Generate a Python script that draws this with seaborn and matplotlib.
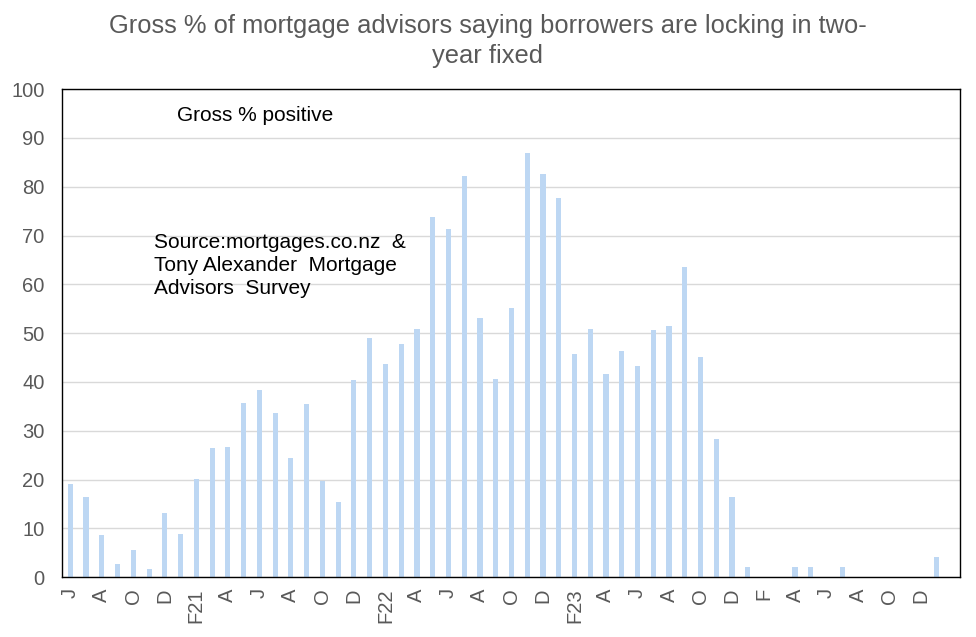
import numpy as np
import pandas as pd
import seaborn as sns
import matplotlib.pyplot as plt

# Monthly survey, Jun 2020 - Feb 2025 (last month has no reading)
months = pd.date_range('2020-06-01', periods=57, freq='MS').strftime('%b-%y').tolist()
gross_positive = [
    19.0, 16.5, 8.6, 2.6, 5.5, 1.6, 13.1, 8.8,            # Jun20 - Jan21
    20.2, 26.5, 26.7, 35.7, 38.4, 33.7, 24.5, 35.5,       # Feb21 - Sep21
    19.6, 15.3, 40.3, 49.1, 43.7, 47.8, 50.9, 73.9,       # Oct21 - May22
    71.4, 82.2, 53.2, 40.7, 55.2, 86.9, 82.6, 77.7,       # Jun22 - Jan23
    45.8, 50.9, 41.6, 46.4, 43.3, 50.7, 51.5, 63.6,       # Feb23 - Sep23
    45.2, 28.3, 16.4, 2.1, 0, 0, 2.1, 2.1,                # Oct23 - May24
    0, 2.1, 0, 0, 0, 0, 0, 4.2, np.nan,                   # Jun24 - Feb25
]
tick_labels = ['J', 'A', 'O', 'D', 'F21', 'A', 'J', 'A', 'O', 'D',
               'F22', 'A', 'J', 'A', 'O', 'D', 'F23', 'A', 'J', 'A',
               'O', 'D', 'F', 'A', 'J', 'A', 'O', 'D']

df = pd.DataFrame({'month': months, 'value': gross_positive})

sns.set_style('white')
plt.rcParams['font.family'] = ['Liberation Sans', 'DejaVu Sans']

fig, ax = plt.subplots(figsize=(9.76, 6.37), dpi=100)
fig.subplots_adjust(left=0.064, right=0.984, top=0.860, bottom=0.094)

sns.barplot(data=df, x='month', y='value', order=months, color='#BDD7F3',
            width=0.33, saturation=1, linewidth=0, ax=ax)

ax.set_xlim(-0.5, len(months) - 0.5)
ax.set_ylim(0, 100)
ax.set_yticks(range(0, 101, 10))
ax.yaxis.grid(True, color='#D9D9D9', linewidth=1)
ax.set_axisbelow(True)

ax.set_xticks(range(0, 2 * len(tick_labels), 2))
ax.set_xticklabels(tick_labels, rotation=90)
ax.tick_params(axis='x', length=0, pad=8, labelsize=14.5, labelcolor='#595959')
ax.tick_params(axis='y', length=0, pad=13, labelsize=14.5, labelcolor='#595959')
ax.set_xlabel('')
ax.set_ylabel('')

for side in ax.spines.values():
    side.set_visible(True)
    side.set_color('black')
    side.set_linewidth(1)

fig.text(0.5, 0.978, 'Gross % of mortgage advisors saying borrowers are locking in two-\nyear fixed',
         ha='center', va='top', fontsize=18.4, color='#595959', linespacing=1.3)

ax.text(0.128, 0.965, 'Gross % positive', transform=ax.transAxes,
        ha='left', va='top', fontsize=15, color='black')
ax.text(0.102, 0.706, 'Source:mortgages.co.nz  &\nTony Alexander  Mortgage\nAdvisors  Survey',
        transform=ax.transAxes, ha='left', va='top', fontsize=15,
        color='black', linespacing=1.28)

plt.savefig('out.png', dpi=100)
